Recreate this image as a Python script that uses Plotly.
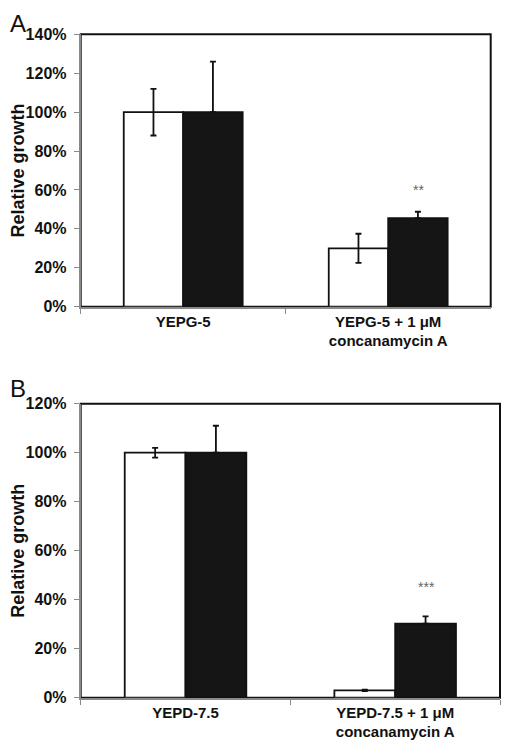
import plotly.graph_objects as go

# Panel A data
cats_a = ["YEPG-5", "YEPG-5 + 1 μM<br>concanamycin A"]
white_a = [100, 30]
white_a_err = [12, 7.5]
black_a = [100, 45.5]
black_a_err = [26, 3.3]
stars_a = ["", "**"]
stars_a_y = [0, 60]

# Panel B data
cats_b = ["YEPD-7.5", "YEPD-7.5 + 1 μM<br>concanamycin A"]
white_b = [100, 3]
white_b_err = [2, 0.3]
black_b = [100, 30.2]
black_b_err = [11, 3]
stars_b = ["", "***"]
stars_b_y = [0, 45]

y_ticks_a = [0, 20, 40, 60, 80, 100, 120, 140]
y_ticks_b = [0, 20, 40, 60, 80, 100, 120]

FONT = "Liberation Sans, Arial, sans-serif"
AXGRAY = "#8a8a8a"
W, H, OFF = 502, 744, 8  # page body has an 8px margin


def px_x(px):
    return (px - OFF) / W


def px_y(py):
    return 1 - (py - OFF) / H


fig = go.Figure()

def add_panel(cats, wv, we, bv, be, xa, ya):
    fig.add_trace(go.Bar(
        x=cats, y=wv, xaxis=xa, yaxis=ya,
        marker=dict(color="white", line=dict(color="#111111", width=1.8)),
        error_y=dict(type="data", array=we, color="#111111", thickness=1.8, width=3),
        showlegend=False))
    fig.add_trace(go.Bar(
        x=cats, y=bv, xaxis=xa, yaxis=ya,
        marker=dict(color="#151515", line=dict(color="#111111", width=1.8)),
        error_y=dict(type="data", symmetric=False, array=be, arrayminus=[0] * len(be),
                     color="#111111", thickness=1.8, width=3),
        showlegend=False))

add_panel(cats_a, white_a, white_a_err, black_a, black_a_err, "x", "y")
add_panel(cats_b, white_b, white_b_err, black_b, black_b_err, "x2", "y2")

xcommon = dict(
    type="category", showline=True, linecolor=AXGRAY, linewidth=2,
    ticks="outside", tickson="boundaries", ticklen=5, tickcolor=AXGRAY, tickwidth=1,
    tickfont=dict(family=FONT, size=15, color="#111111", weight="bold"),
    showgrid=False, zeroline=False, fixedrange=True, automargin=False,
)
ycommon = dict(
    showline=True, linecolor=AXGRAY, linewidth=2,
    ticks="outside", ticklen=5, tickcolor=AXGRAY, tickwidth=1,
    ticklabelstandoff=4, automargin=False,
    tickfont=dict(family=FONT, size=16, color="#111111", weight="bold"),
    showgrid=False, zeroline=False,
    title=dict(text="Relative growth", font=dict(family=FONT, size=18, color="#111111", weight="bold"), standoff=4),
)

fig.update_layout(
    width=W, height=H,
    margin=dict(l=0, r=0, t=0, b=0, autoexpand=False),
    paper_bgcolor="white", plot_bgcolor="white",
    barmode="group", bargap=0.42, bargroupgap=0,
    xaxis=dict(domain=[px_x(80.7), px_x(490.7)], anchor="y", **xcommon),
    yaxis=dict(domain=[px_y(306.7), px_y(34.3)], anchor="x", range=[0, 140], tickvals=y_ticks_a,
               ticktext=[f"{v}%" for v in y_ticks_a], **ycommon),
    xaxis2=dict(domain=[px_x(80.7), px_x(500)], anchor="y2", **xcommon),
    yaxis2=dict(domain=[px_y(697.7), px_y(403.7)], anchor="x2", range=[0, 120], tickvals=y_ticks_b,
                ticktext=[f"{v}%" for v in y_ticks_b], **ycommon),
)

# black frame on top and right
for xr, yr in (("x domain", "y domain"), ("x2 domain", "y2 domain")):
    fig.add_shape(type="rect", xref=xr, yref=yr, x0=0, x1=1, y0=0, y1=1,
                  line=dict(color="#111111", width=2), layer="below")

# significance stars
for cats, stars, sy, xa, ya, xs in ((cats_a, stars_a, stars_a_y, "x", "y", 30),
                                     (cats_b, stars_b, stars_b_y, "x2", "y2", 31)):
    for c, s, yv in zip(cats, stars, sy):
        if s:
            fig.add_annotation(x=c, y=yv, xref=xa, yref=ya, text=s, showarrow=False,
                               xshift=xs, font=dict(family=FONT, size=14, color="#666666"))

# panel letters
for letter, (px, py) in (("A", (8, 8)), ("B", (8, 373))):
    fig.add_annotation(x=px_x(px), y=px_y(py), xref="paper", yref="paper", text=letter,
                       showarrow=False, xanchor="left", yanchor="top",
                       font=dict(family=FONT, size=24, color="#111111"))

fig.write_html("out.html")
